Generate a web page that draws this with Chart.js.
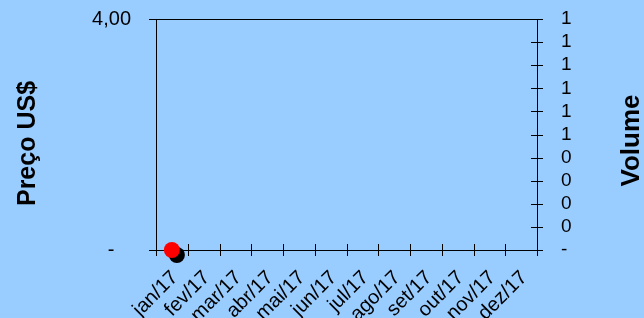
<!DOCTYPE html>
<html>
<head>
<meta charset="utf-8">
<script src="https://cdn.jsdelivr.net/npm/chart.js@4"></script>
<style>
  html, body { margin: 0; padding: 0; background: #99ccff; }
  #wrap { width: 644px; height: 318px; }
</style>
</head>
<body>
<div id="wrap"><canvas id="chart" width="644" height="318"></canvas></div>
<script>
// Chart data
const months = ['jan/17', 'fev/17', 'mar/17', 'abr/17', 'mai/17', 'jun/17',
  'jul/17', 'ago/17', 'set/17', 'out/17', 'nov/17', 'dez/17'];
const prices = [0];
const volumes = [0];
const priceTicks = [0, 4];
const volumeTicks = [0, 0.1, 0.2, 0.3, 0.4, 0.5, 0.6, 0.7, 0.8, 0.9, 1];

const fontFamily = '"Liberation Sans", Arial, sans-serif';
const axisColor = '#000';

// Excel accounting style labels ("-" for zero, padded like Excel does)
const fmtPrice = v => (v === 0 ? '-   ' : v.toFixed(2).replace('.', ','));
const fmtVolume = v => (Math.abs(v) < 1e-9 ? '-' : String(Math.round(v)));

// Draw a title read bottom-to-top
const sideTitle = (ctx, text, x, y, size) => {
  ctx.save();
  ctx.fillStyle = '#000';
  ctx.font = `bold ${size}px ${fontFamily}`;
  ctx.textAlign = 'center';
  ctx.textBaseline = 'middle';
  ctx.translate(x, y);
  ctx.rotate(-Math.PI / 2);
  ctx.fillText(text, 0, 0);
  ctx.restore();
};

// Ticks that cross the axis line, and both axis titles
const crossTicks = {
  id: 'crossTicks',
  afterDraw(chart) {
    const { ctx, chartArea, scales } = chart;
    const x = scales.x, yR = scales.y1;
    ctx.save();
    ctx.strokeStyle = axisColor;
    ctx.lineWidth = 1;
    ctx.beginPath();
    const step = x.getPixelForValue(1) - x.getPixelForValue(0);
    for (let i = 0; i <= months.length; i++) {
      const px = Math.round(x.getPixelForValue(i) - step / 2) + 0.5;
      ctx.moveTo(px, chartArea.bottom - 6);
      ctx.lineTo(px, chartArea.bottom + 6);
    }
    yR.ticks.forEach(t => {
      const py = Math.round(yR.getPixelForValue(t.value)) + 0.5;
      ctx.moveTo(chartArea.right - 6, py);
      ctx.lineTo(chartArea.right + 6, py);
    });
    ctx.stroke();
    ctx.restore();

    const midY = (chartArea.top + chartArea.bottom) / 2;
    sideTitle(ctx, 'Preço US$', 28, midY + 9, 25);
    sideTitle(ctx, 'Volume', chart.width - 12, midY + 6, 26);
  },
};

// Red marker with its black offset shadow
const markerShadow = {
  id: 'markerShadow',
  beforeDatasetDraw(chart, args) {
    if (args.index !== 0) return;
    const ctx = chart.ctx;
    ctx.save();
    ctx.shadowColor = '#000';
    ctx.shadowOffsetX = 5;
    ctx.shadowOffsetY = 5;
    ctx.shadowBlur = 0;
  },
  afterDatasetDraw(chart, args) {
    if (args.index !== 0) return;
    chart.ctx.restore();
  },
};

// Keep the plot box fixed: no extra label padding around the axes
const fixV = w => s => { s.width = w; s.paddingTop = 0; s.paddingBottom = 0; };

Chart.defaults.font.family = fontFamily;
Chart.defaults.font.size = 19;
Chart.defaults.color = '#000';

const ctx = document.getElementById('chart').getContext('2d');
const chart = new Chart(ctx, {
  type: 'line',
  data: {
    labels: months,
    datasets: [
      {
        label: 'Preço',
        data: prices,
        yAxisID: 'y',
        showLine: false,
        clip: false,
        pointRadius: 8,
        pointBackgroundColor: '#ff0000',
        pointBorderWidth: 0,
        order: 0,
      },
      {
        label: 'Volume',
        type: 'bar',
        data: volumes,
        yAxisID: 'y1',
        backgroundColor: '#000',
        order: 1,
      },
    ],
  },
  options: {
    responsive: false,
    animation: false,
    layout: { padding: { top: 19, right: 0, left: 0, bottom: 0 } },
    plugins: {
      legend: { display: false },
      tooltip: { enabled: false },
    },
    scales: {
      x: {
        offset: true,
        grid: { display: false, offset: true, drawTicks: false },
        border: { display: true, color: axisColor, width: 1 },
        ticks: {
          autoSkip: false,
          maxRotation: 45,
          minRotation: 45,
          padding: 16,
          labelOffset: 3,
          font: { size: 20 },
        },
        afterFit: s => { s.height = 68; s.paddingLeft = 0; s.paddingRight = 0; },
      },
      y: {
        position: 'left',
        min: 0,
        max: 4,
        afterBuildTicks: s => { s.ticks = priceTicks.map(v => ({ value: v })); },
        grid: {
          color: axisColor,
          drawTicks: true,
          tickLength: 7,
          tickColor: axisColor,
        },
        border: { display: true, color: axisColor, width: 1 },
        ticks: { padding: 18, callback: v => fmtPrice(v), font: { size: 20 } },
        afterFit: fixV(156),
      },
      y1: {
        position: 'right',
        min: 0,
        max: 1,
        afterBuildTicks: s => { s.ticks = volumeTicks.map(v => ({ value: v })); },
        grid: { display: false, drawTicks: false },
        border: { display: true, color: axisColor, width: 1 },
        ticks: { autoSkip: false, padding: 24, callback: v => fmtVolume(v) },
        afterFit: fixV(107),
      },
    },
  },
  plugins: [markerShadow, crossTicks],
});
</script>
</body>
</html>
